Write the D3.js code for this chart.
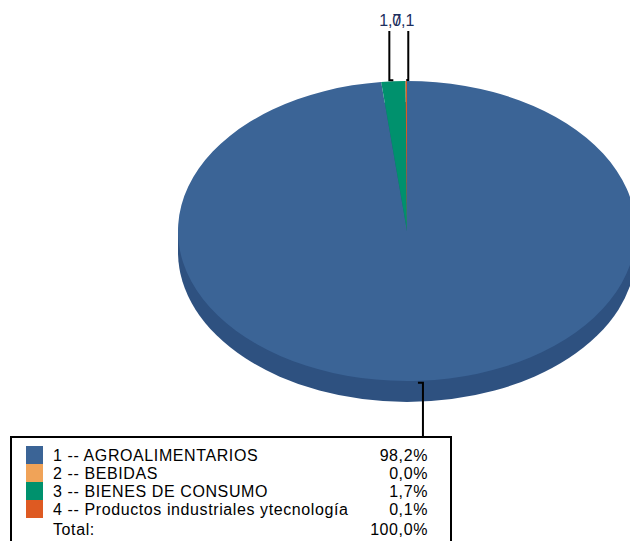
<!DOCTYPE html>
<html lang="es">
<head>
    <meta charset="utf-8">
    <title>Pie</title>
    <script src="https://d3js.org/d3.v7.min.js"></script>
    <style>
        body { margin: 0; background: #fff; }
        text { font-family: "Liberation Sans", Arial, sans-serif; }
    </style>
</head>
<body>
<script>
    const categories = ['1 -- AGROALIMENTARIOS', '2 -- BEBIDAS', '3 -- BIENES DE CONSUMO', '4 -- Productos industriales ytecnología'];
    const values = [98.2, 0.0, 1.7, 0.1];
    const colors = ['#3b6496', '#f0a358', '#00916d', '#de5a22'];
    const topLabels = [null, null, '1,7', '0,1'];   // labels drawn above the pie
    const totalLabel = 'Total:';
    const totalValue = 100.0;

    const fmt = d3.formatLocale({decimal: ',', thousands: '.', grouping: [3], currency: ['', '']}).format('.1f');

    const W = 630, H = 541;
    const cx = 407, cy = 231, rx = 229, ry = 150, depth = 21;

    const svg = d3.select('body').append('svg').attr('width', W).attr('height', H);

    const pie = d3.pie().sort(null).value(d => d);
    const arcs = pie(values);
    const arc = d3.arc().innerRadius(0).outerRadius(rx);

    // side of the disc
    const side = svg.append('g');
    side.append('ellipse').attr('cx', cx).attr('cy', cy + depth).attr('rx', rx).attr('ry', ry).attr('fill', '#2e5180');
    side.append('rect').attr('x', cx - rx).attr('y', cy).attr('width', 2 * rx).attr('height', depth).attr('fill', '#2e5180');

    // top surface
    svg.append('g')
        .attr('transform', `translate(${cx},${cy}) scale(1,${ry / rx})`)
        .selectAll('path')
        .data(arcs).join('path')
        .attr('d', arc)
        .attr('fill', (d, i) => colors[i]);

    const pt = a => [cx + rx * Math.sin(a), cy - ry * Math.cos(a)];
    const mid = d => (d.startAngle + d.endAngle) / 2;

    // leader lines + labels for the small slices (top)
    const lineOffset = [0, 0, -4, 2];
    const textOffset = [0, 0, 1, -5];
    arcs.forEach((d, i) => {
        if (!topLabels[i]) return;
        const [px, py] = pt(mid(d));
        const lx = px + lineOffset[i];
        svg.append('path')
            .attr('d', `M${px},${py - 1}H${lx}V31`)
            .attr('fill', 'none').attr('stroke', '#000').attr('stroke-width', 2);
        svg.append('text')
            .attr('x', lx + textOffset[i]).attr('y', 26)
            .attr('text-anchor', 'middle')
            .attr('font-size', 16).attr('fill', '#1c2f5e')
            .text(topLabels[i]);
    });

    // leader line for the big slice down to the legend
    {
        const [px, py] = pt(mid(arcs[0]));
        const lx = px + 3;
        svg.append('path')
            .attr('d', `M${px - 2},${py + 2}H${lx}V437`)
            .attr('fill', 'none').attr('stroke', '#000').attr('stroke-width', 2);
    }

    // legend
    const lg = svg.append('g').attr('font-size', 16).attr('letter-spacing', 0.6);
    lg.append('rect').attr('x', 11).attr('y', 437).attr('width', 440).attr('height', 120)
        .attr('fill', '#fff').attr('stroke', '#000').attr('stroke-width', 2);

    const rowY = d3.scaleLinear().domain([0, 1]).range([446, 464]);
    categories.forEach((c, i) => {
        lg.append('rect').attr('x', 26).attr('y', rowY(i)).attr('width', 17).attr('height', 18).attr('fill', colors[i]);
        lg.append('text').attr('x', 53).attr('y', rowY(i) + 15).attr('fill', '#000').text(c);
        lg.append('text').attr('x', 428).attr('y', rowY(i) + 15).attr('text-anchor', 'end').attr('fill', '#000').text(fmt(values[i]) + '%');
    });
    lg.append('text').attr('x', 53).attr('y', rowY(4) + 17).text(totalLabel);
    lg.append('text').attr('x', 428).attr('y', rowY(4) + 17).attr('text-anchor', 'end').text(fmt(totalValue) + '%');
</script>
</body>
</html>
